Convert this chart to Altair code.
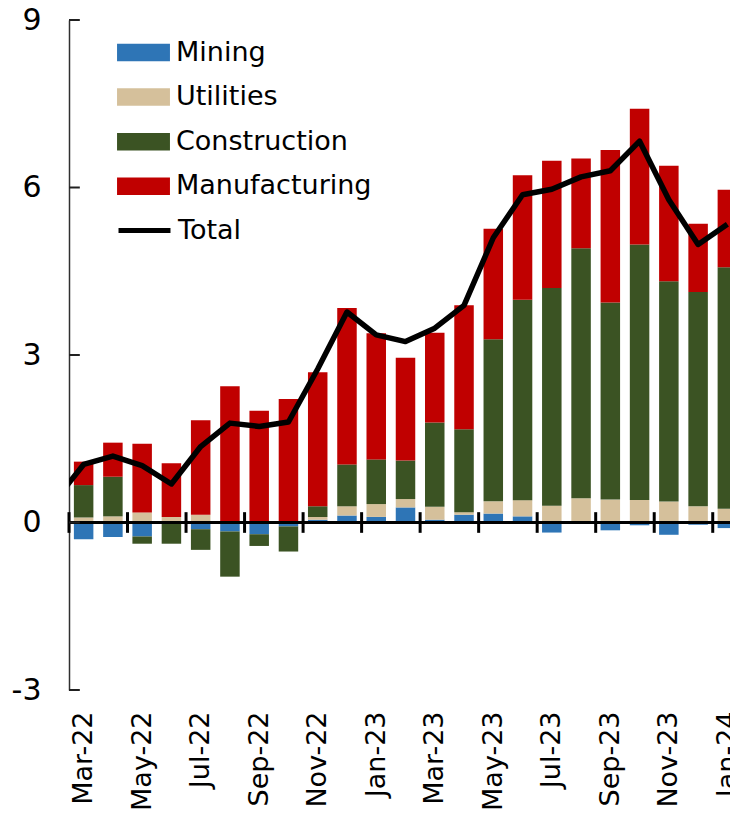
import json
import altair as alt
import pandas as pd

# ---------------- data ----------------
months = ["Mar-22", "Apr-22", "May-22", "Jun-22", "Jul-22", "Aug-22", "Sep-22", "Oct-22",
          "Nov-22", "Dec-22", "Jan-23", "Feb-23", "Mar-23", "Apr-23", "May-23", "Jun-23",
          "Jul-23", "Aug-23", "Sep-23", "Oct-23", "Nov-23", "Dec-23", "Jan-24"]

mining = [-0.30, -0.26, -0.25, -0.01, -0.12, -0.16, -0.21, -0.07, 0.05, 0.125, 0.10, 0.27,
          0.05, 0.14, 0.16, 0.11, -0.18, 0.0, -0.14, -0.05, -0.22, -0.04, -0.10]
utilities = [0.09, 0.11, 0.18, 0.10, 0.14, 0.02, 0.0, 0.0, 0.05, 0.165, 0.23, 0.15,
             0.23, 0.045, 0.22, 0.29, 0.30, 0.435, 0.41, 0.405, 0.375, 0.29, 0.245]
construction = [0.58, 0.71, -0.13, -0.37, -0.37, -0.81, -0.21, -0.45, 0.19, 0.75, 0.80, 0.69,
                1.51, 1.485, 2.90, 3.59, 3.90, 4.475, 3.53, 4.575, 3.945, 3.84, 4.325]
manufacturing = [0.42, 0.61, 1.23, 0.96, 1.69, 2.42, 2.00, 2.21, 2.40, 2.80, 2.26, 1.84,
                 1.61, 2.22, 1.98, 2.23, 2.28, 1.61, 2.73, 2.43, 2.07, 1.22, 1.39]

# total line (includes the preceding month, which enters from the left edge)
total_months = ["Feb-22"] + months
total = [0.38, 1.04, 1.19, 1.02, 0.69, 1.36, 1.78, 1.72, 1.80, 2.75, 3.77, 3.36, 3.24,
         3.48, 3.89, 5.10, 5.87, 5.97, 6.19, 6.30, 6.83, 5.78, 4.98, 5.34]

sectors = ["Mining", "Utilities", "Construction", "Manufacturing"]
sector_colors = ["#2E75B6", "#D5C09B", "#3B5323", "#C00000"]
y_ticks = [-3, 0, 3, 6, 9]

# ---------------- tables ----------------
rows = []
for i, m in enumerate(months):
    for k, (s, vals) in enumerate(zip(sectors, [mining, utilities, construction, manufacturing])):
        rows.append({"idx": i, "month": m, "sector": s, "order": k, "value": vals[i]})
bars_df = pd.DataFrame(rows)

line_df = pd.DataFrame({"idx": list(range(-1, len(months))), "month": total_months,
                        "total": total, "series": "Total"})
xtick_df = pd.DataFrame({"pos": [i - 0.5 for i in range(0, len(months), 2)]})
ytick_df = pd.DataFrame({"yv": y_ticks})

FONT = "DejaVu Sans"
W, H = 673, 670

xscale = alt.Scale(domain=[-0.5, len(months) - 0.5], nice=False, zero=False, padding=0)
yscale = alt.Scale(domain=[-3, 9], nice=False, zero=False, padding=0)

label_expr = json.dumps(months) + "[datum.value]"

x_axis = alt.Axis(values=list(range(0, len(months), 2)), labelExpr=label_expr, labelAngle=270,
                  labelFont=FONT, labelFontSize=27, labelColor="black", domain=False,
                  ticks=False, grid=False, labelPadding=21, labelFlush=False, title=None,
                  labelOverlap=False)
y_axis = alt.Axis(values=y_ticks,
                  labelExpr="datum.value < 0 ? '-' + abs(datum.value) : '' + datum.value",
                  labelFont=FONT, labelFontSize=30,
                  labelColor="black", domain=True, domainColor="#303030", domainWidth=1.5,
                  ticks=False, grid=False, labelPadding=28, title=None, labelFlush=False)

bar_legend = alt.Legend(
    orient="none", legendX=48, legendY=6, title=None, labelFont=FONT, labelFontSize=27,
    labelColor="black", symbolSize=2800, symbolType="M-1,-0.33H1V0.33H-1Z",
    symbolStrokeWidth=0, symbolOpacity=1, labelOffset=6, rowPadding=4.6, padding=0,
    labelLimit=400,
)
line_legend = alt.Legend(
    orient="none", legendX=47, legendY=182, title=None, labelFont=FONT, labelFontSize=27,
    labelColor="black", symbolSize=2700, symbolType="stroke", symbolStrokeWidth=5,
    symbolStrokeColor="black", labelOffset=5, padding=0, labelLimit=400,
)

bars = alt.Chart(bars_df).mark_bar(size=19.5).encode(
    x=alt.X("idx:Q", scale=xscale, axis=x_axis),
    y=alt.Y("value:Q", stack="zero", scale=yscale, axis=y_axis),
    color=alt.Color("sector:N", scale=alt.Scale(domain=sectors, range=sector_colors),
                    legend=bar_legend),
    order=alt.Order("order:Q"),
)

zero_rule = alt.Chart(ytick_df).mark_rule(color="black", strokeWidth=3.2).encode(
    y=alt.datum(0)
)

x_ticks = alt.Chart(xtick_df).mark_rule(color="black", strokeWidth=3).encode(
    x=alt.X("pos:Q"),
    y=alt.datum(-0.185),
    y2=alt.datum(0.185),
)

y_tick_marks = alt.Chart(ytick_df).mark_rule(color="#202020", strokeWidth=2).encode(
    y=alt.Y("yv:Q"),
    x=alt.datum(-0.5),
    x2=alt.datum(-0.13),
)

line = alt.Chart(line_df).mark_line(strokeWidth=5.5, clip=True, strokeJoin="round").encode(
    x=alt.X("idx:Q"),
    y=alt.Y("total:Q"),
    stroke=alt.Stroke("series:N", scale=alt.Scale(domain=["Total"], range=["#000000"]),
                      legend=line_legend),
)

chart = alt.layer(bars, zero_rule, x_ticks, y_tick_marks, line).properties(
    width=W, height=H,
    autosize=alt.AutoSizeParams(type="none"),
    padding={"left": 61, "top": 12, "right": -12, "bottom": 121},
    background="white",
).configure_view(stroke=None)

chart.save("out.html", embed_options={"renderer": "svg", "actions": False})
